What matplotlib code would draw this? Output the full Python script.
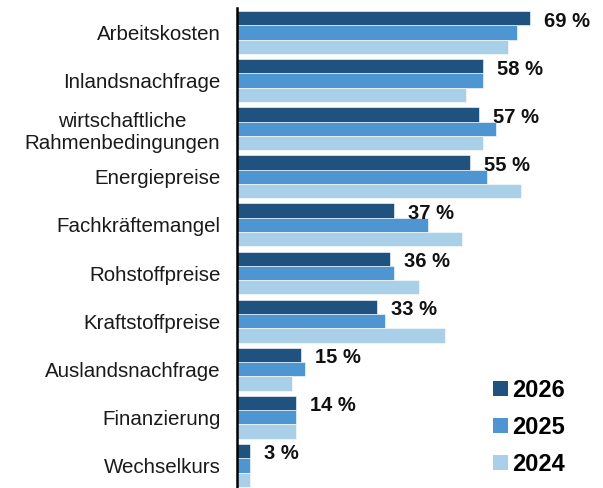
import numpy as np
import matplotlib.pyplot as plt
from matplotlib.patches import Patch

plt.rcParams['font.family'] = ['Liberation Sans', 'DejaVu Sans']

# data (%)
categories = ['Arbeitskosten', 'Inlandsnachfrage', 'wirtschaftliche\nRahmenbedingungen',
              'Energiepreise', 'Fachkräftemangel', 'Rohstoffpreise', 'Kraftstoffpreise',
              'Auslandsnachfrage', 'Finanzierung', 'Wechselkurs']
v2026 = [69, 58, 57, 55, 37, 36, 33, 15, 14, 3]
v2025 = [66, 58, 61, 59, 45, 37, 35, 16, 14, 3]
v2024 = [64, 54, 58, 67, 53, 43, 49, 13, 14, 3]
years = ['2026', '2025', '2024']

colors = ['#1F527E', '#4E96D2', '#AACFE8']

fig = plt.figure(figsize=(6.03, 4.88), dpi=100)
ax = fig.add_axes([237 / 603, 0.0, 1 - 237 / 603, 480 / 488])

y = np.arange(len(categories))
h = 0.297
for i, (vals, c) in enumerate(zip([v2026, v2025, v2024], colors)):
    ax.barh(y + (i - 1) * h, vals, height=h, color=c, edgecolor='white', linewidth=0.4)

# value labels for 2026 only
for yi, v in zip(y, v2026):
    ax.text(v + 3.3, yi - h + 0.06, f'{v} %', va='center', ha='left',
            fontsize=14.5, fontweight='bold', color='#111111')

ax.set_ylim(9.47, -0.51)
ax.set_xlim(0, 86.3)
ax.set_yticks(y)
ax.set_yticklabels(categories, fontsize=14.8, color='#1a1a1a', multialignment='center')
ax.tick_params(axis='y', length=0, pad=12)
ax.set_xticks([])
for s in ['top', 'right', 'bottom']:
    ax.spines[s].set_visible(False)
ax.spines['left'].set_linewidth(1.8)
ax.spines['left'].set_color('black')

handles = [Patch(facecolor=c, label=lab) for c, lab in zip(colors, years)]
leg = fig.legend(handles=handles, loc='lower left', bbox_to_anchor=(484 / 603, 0.005),
                 frameon=False, prop={'size': 17, 'weight': 'bold'},
                 handlelength=0.6, handleheight=0.6, handletextpad=0.2,
                 labelspacing=0.6, borderaxespad=0)

fig.savefig('out.png', dpi=100)
